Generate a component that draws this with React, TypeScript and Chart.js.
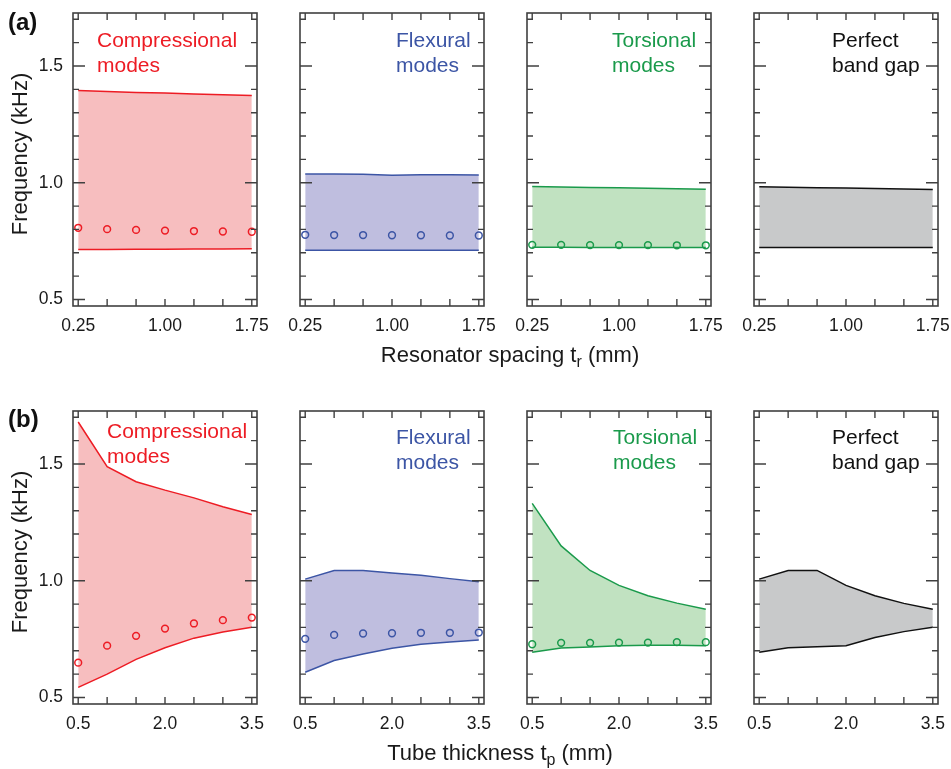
import React, { useEffect, useRef } from 'react';
import { Chart, registerables } from 'chart.js';

Chart.register(...registerables);

// ---------- data ----------
const xA = [0.25, 0.5, 0.75, 1.0, 1.25, 1.5, 1.75];
const xB = [0.5, 1.0, 1.5, 2.0, 2.5, 3.0, 3.5];
const xLabelsA = ['0.25', '', '', '1.00', '', '', '1.75'];
const xLabelsB = ['0.5', '', '', '2.0', '', '', '3.5'];
const yTicks = [0.5, 0.6, 0.7, 0.8, 0.9, 1.0, 1.1, 1.2, 1.3, 1.4, 1.5, 1.6, 1.7];
const yTickLabels = ['0.5', '', '', '', '', '1.0', '', '', '', '', '1.5', '', ''];

// Row (a): resonator spacing
const compUpperA = [1.395, 1.391, 1.387, 1.384, 1.38, 1.377, 1.374];
const compLowerA = [0.714, 0.714, 0.715, 0.715, 0.716, 0.716, 0.717];
const compModesA = [0.807, 0.801, 0.798, 0.795, 0.793, 0.791, 0.79];
const flexUpperA = [1.037, 1.037, 1.036, 1.032, 1.034, 1.034, 1.033];
const flexLowerA = [0.711, 0.711, 0.711, 0.711, 0.711, 0.711, 0.711];
const flexModesA = [0.777, 0.776, 0.776, 0.775, 0.775, 0.774, 0.774];
const torsUpperA = [0.984, 0.982, 0.98, 0.978, 0.976, 0.974, 0.972];
const torsLowerA = [0.724, 0.724, 0.723, 0.723, 0.723, 0.723, 0.723];
const torsModesA = [0.734, 0.734, 0.733, 0.733, 0.733, 0.732, 0.732];
const gapUpperA = [0.983, 0.981, 0.979, 0.977, 0.975, 0.973, 0.971];
const gapLowerA = [0.723, 0.723, 0.723, 0.723, 0.723, 0.723, 0.723];

// Row (b): tube thickness
const compUpperB = [1.68, 1.489, 1.424, 1.388, 1.355, 1.317, 1.284];
const compLowerB = [0.543, 0.6, 0.663, 0.713, 0.754, 0.78, 0.801];
const compModesB = [0.649, 0.722, 0.764, 0.795, 0.817, 0.831, 0.842];
const flexUpperB = [1.007, 1.044, 1.044, 1.033, 1.023, 1.009, 0.996];
const flexLowerB = [0.608, 0.658, 0.686, 0.711, 0.728, 0.738, 0.746];
const flexModesB = [0.751, 0.768, 0.774, 0.775, 0.777, 0.777, 0.778];
const torsUpperB = [1.331, 1.149, 1.044, 0.98, 0.936, 0.904, 0.878];
const torsLowerB = [0.694, 0.712, 0.716, 0.721, 0.724, 0.724, 0.722];
const torsModesB = [0.728, 0.734, 0.734, 0.735, 0.735, 0.737, 0.737];
const gapUpperB = [1.007, 1.044, 1.044, 0.98, 0.936, 0.903, 0.878];
const gapLowerB = [0.694, 0.713, 0.717, 0.722, 0.757, 0.782, 0.801];

// ---------- style / layout ----------
const FONT = '"Liberation Sans", Arial, Helvetica, sans-serif';
const Y_MIN = 0.472;
const Y_MAX = 1.727;
const X_MIN_A = 0.205;
const X_MAX_A = 1.795;
const X_MIN_B = 0.41;
const X_MAX_B = 3.59;

const PANEL_W = 184;
const PANEL_H = 293;
const AXIS_W = 60;
const AXIS_H = 40;
const PAD_T = 30;
const PAD_R = 28;
const CW = AXIS_W + PANEL_W + PAD_R;
const CH = PAD_T + PANEL_H + AXIS_H;

const PANEL_LEFTS = [73, 300, 527, 754];
const ROW_TOPS = [13, 411];

const RED = '#ed1c24';
const RED_FILL = '#f7bebf';
const BLUE = '#3c55a5';
const BLUE_FILL = '#bfbedf';
const GREEN = '#1a9a4b';
const GREEN_FILL = '#c1e2c1';
const BLACK = '#111111';
const GRAY_FILL = '#c8c9ca';
const FRAME = '#404040';
const TEXT = '#1a1a1a';

const framePlugin = {
  id: 'frameTicks',
  afterDatasetsDraw(chart: any) {
    const { ctx, chartArea: ca, scales } = chart;
    const xs = scales.x;
    const ys = scales.y;
    ctx.save();
    ctx.strokeStyle = FRAME;
    ctx.lineWidth = 1.4;
    ctx.beginPath();
    ys.ticks.forEach((t: any) => {
      const py = ys.getPixelForValue(t.value);
      const major = Math.abs(t.value * 2 - Math.round(t.value * 2)) < 1e-6;
      const len = major ? 12 : 6;
      ctx.moveTo(ca.left, py);
      ctx.lineTo(ca.left + len, py);
      ctx.moveTo(ca.right, py);
      ctx.lineTo(ca.right - len, py);
    });
    xs.ticks.forEach((t: any) => {
      const px = xs.getPixelForValue(t.value);
      ctx.moveTo(px, ca.bottom);
      ctx.lineTo(px, ca.bottom - 7);
      ctx.moveTo(px, ca.top);
      ctx.lineTo(px, ca.top + 7);
    });
    ctx.stroke();
    ctx.lineWidth = 1.6;
    ctx.strokeRect(ca.left, ca.top, ca.right - ca.left, ca.bottom - ca.top);
    ctx.restore();
  },
};

type PanelProps = {
  left: number;
  top: number;
  xs: number[];
  xMin: number;
  xMax: number;
  xLabels: string[];
  lower: number[];
  upper: number[];
  modes?: number[];
  line: string;
  fill: string;
  showY: boolean;
};

function Panel(p: PanelProps) {
  const ref = useRef<HTMLCanvasElement>(null);
  useEffect(() => {
    const pts = (arr: number[]) => p.xs.map((x, i) => ({ x, y: arr[i] }));
    const datasets: any[] = [];
    if (p.modes) {
      datasets.push({
        data: pts(p.modes),
        showLine: false,
        pointStyle: 'circle',
        pointRadius: 3.4,
        pointBorderWidth: 1.5,
        pointBorderColor: p.line,
        pointBackgroundColor: 'rgba(0,0,0,0)',
        borderColor: p.line,
        fill: false,
      });
    }
    datasets.push({
      data: pts(p.lower),
      borderColor: p.line,
      borderWidth: 1.5,
      pointRadius: 0,
      fill: false,
      tension: 0,
    });
    datasets.push({
      data: pts(p.upper),
      borderColor: p.line,
      borderWidth: 1.5,
      pointRadius: 0,
      fill: '-1',
      backgroundColor: p.fill,
      tension: 0,
    });
    const chart = new Chart(ref.current as HTMLCanvasElement, {
      type: 'line',
      data: { datasets },
      options: {
        animation: false,
        responsive: false,
        maintainAspectRatio: false,
        events: [],
        layout: { padding: { left: 0, top: PAD_T, right: PAD_R, bottom: 0 } },
        plugins: {
          legend: { display: false },
          tooltip: { enabled: false },
        },
        scales: {
          x: {
            type: 'linear',
            min: p.xMin,
            max: p.xMax,
            position: 'bottom',
            grid: { display: false, drawTicks: false },
            border: { display: false },
            afterBuildTicks: (s: any) => {
              s.ticks = p.xs.map((v) => ({ value: v }));
            },
            afterFit: (s: any) => {
              s.height = AXIS_H;
            },
            ticks: {
              autoSkip: false,
              maxRotation: 0,
              minRotation: 0,
              padding: 9.5,
              color: TEXT,
              font: { family: FONT, size: 17.5 },
              callback: (_v: any, i: number) => p.xLabels[i],
            },
          },
          y: {
            type: 'linear',
            min: Y_MIN,
            max: Y_MAX,
            position: 'left',
            grid: { display: false, drawTicks: false },
            border: { display: false },
            afterBuildTicks: (s: any) => {
              s.ticks = yTicks.map((v) => ({ value: v }));
            },
            afterFit: (s: any) => {
              s.width = AXIS_W;
            },
            ticks: {
              display: p.showY,
              autoSkip: false,
              padding: 10,
              color: TEXT,
              font: { family: FONT, size: 17.5 },
              callback: (_v: any, i: number) => yTickLabels[i],
            },
          },
        },
      } as any,
      plugins: [framePlugin],
    });
    return () => chart.destroy();
  }, []);
  return (
    <canvas
      ref={ref}
      width={CW}
      height={CH}
      style={{ position: 'absolute', left: p.left - AXIS_W, top: p.top - PAD_T, width: CW, height: CH }}
    />
  );
}

const labelStyle = (left: number, top: number, color: string): React.CSSProperties => ({
  position: 'absolute',
  left,
  top,
  color,
  fontFamily: FONT,
  fontSize: 21,
  lineHeight: '25px',
  whiteSpace: 'nowrap',
});

export default function App() {
  const rowA = [
    { upper: compUpperA, lower: compLowerA, modes: compModesA, line: RED, fill: RED_FILL },
    { upper: flexUpperA, lower: flexLowerA, modes: flexModesA, line: BLUE, fill: BLUE_FILL },
    { upper: torsUpperA, lower: torsLowerA, modes: torsModesA, line: GREEN, fill: GREEN_FILL },
    { upper: gapUpperA, lower: gapLowerA, modes: undefined, line: BLACK, fill: GRAY_FILL },
  ];
  const rowB = [
    { upper: compUpperB, lower: compLowerB, modes: compModesB, line: RED, fill: RED_FILL },
    { upper: flexUpperB, lower: flexLowerB, modes: flexModesB, line: BLUE, fill: BLUE_FILL },
    { upper: torsUpperB, lower: torsLowerB, modes: torsModesB, line: GREEN, fill: GREEN_FILL },
    { upper: gapUpperB, lower: gapLowerB, modes: undefined, line: BLACK, fill: GRAY_FILL },
  ];
  return (
    <div
      style={{
        position: 'absolute',
        left: 0,
        top: 0,
        width: 951,
        height: 769,
        overflow: 'hidden',
        background: '#ffffff',
        fontFamily: FONT,
      }}
    >
      {rowA.map((d, i) => (
        <Panel
          key={'a' + i}
          left={PANEL_LEFTS[i]}
          top={ROW_TOPS[0]}
          xs={xA}
          xMin={X_MIN_A}
          xMax={X_MAX_A}
          xLabels={xLabelsA}
          lower={d.lower}
          upper={d.upper}
          modes={d.modes}
          line={d.line}
          fill={d.fill}
          showY={i === 0}
        />
      ))}
      {rowB.map((d, i) => (
        <Panel
          key={'b' + i}
          left={PANEL_LEFTS[i]}
          top={ROW_TOPS[1]}
          xs={xB}
          xMin={X_MIN_B}
          xMax={X_MAX_B}
          xLabels={xLabelsB}
          lower={d.lower}
          upper={d.upper}
          modes={d.modes}
          line={d.line}
          fill={d.fill}
          showY={i === 0}
        />
      ))}

      {/* panel letters */}
      <div style={{ position: 'absolute', left: 8, top: 7.7, fontFamily: FONT, fontWeight: 'bold', fontSize: 24, lineHeight: '28px', color: '#111' }}>(a)</div>
      <div style={{ position: 'absolute', left: 8, top: 404.7, fontFamily: FONT, fontWeight: 'bold', fontSize: 24, lineHeight: '28px', color: '#111' }}>(b)</div>

      {/* y axis titles */}
      {[154, 552].map((cy, i) => (
        <div
          key={'yt' + i}
          style={{
            position: 'absolute',
            left: 20,
            top: cy,
            transform: 'translate(-50%, -50%) rotate(-90deg)',
            fontFamily: FONT,
            fontSize: 22,
            lineHeight: '26px',
            whiteSpace: 'nowrap',
            color: TEXT,
          }}
        >
          Frequency (kHz)
        </div>
      ))}

      {/* x axis titles */}
      <div style={{ position: 'absolute', left: 510, top: 342.4, transform: 'translateX(-50%)', fontFamily: FONT, fontSize: 22, lineHeight: '26px', whiteSpace: 'nowrap', color: TEXT }}>
        Resonator spacing t<span style={{ fontSize: 16, position: 'relative', top: 5 }}>r</span> (mm)
      </div>
      <div style={{ position: 'absolute', left: 500, top: 740.4, transform: 'translateX(-50%)', fontFamily: FONT, fontSize: 22, lineHeight: '26px', whiteSpace: 'nowrap', color: TEXT }}>
        Tube thickness t<span style={{ fontSize: 16, position: 'relative', top: 5 }}>p</span> (mm)
      </div>

      {/* annotations row a */}
      <div style={labelStyle(97, 27, RED)}>Compressional<br />modes</div>
      <div style={labelStyle(396, 27, BLUE)}>Flexural<br />modes</div>
      <div style={labelStyle(612, 27, GREEN)}>Torsional<br />modes</div>
      <div style={labelStyle(832, 27, BLACK)}>Perfect<br />band gap</div>

      {/* annotations row b */}
      <div style={labelStyle(107, 417.5, RED)}>Compressional<br />modes</div>
      <div style={labelStyle(396, 424, BLUE)}>Flexural<br />modes</div>
      <div style={labelStyle(613, 424, GREEN)}>Torsional<br />modes</div>
      <div style={labelStyle(832, 424, BLACK)}>Perfect<br />band gap</div>
    </div>
  );
}
